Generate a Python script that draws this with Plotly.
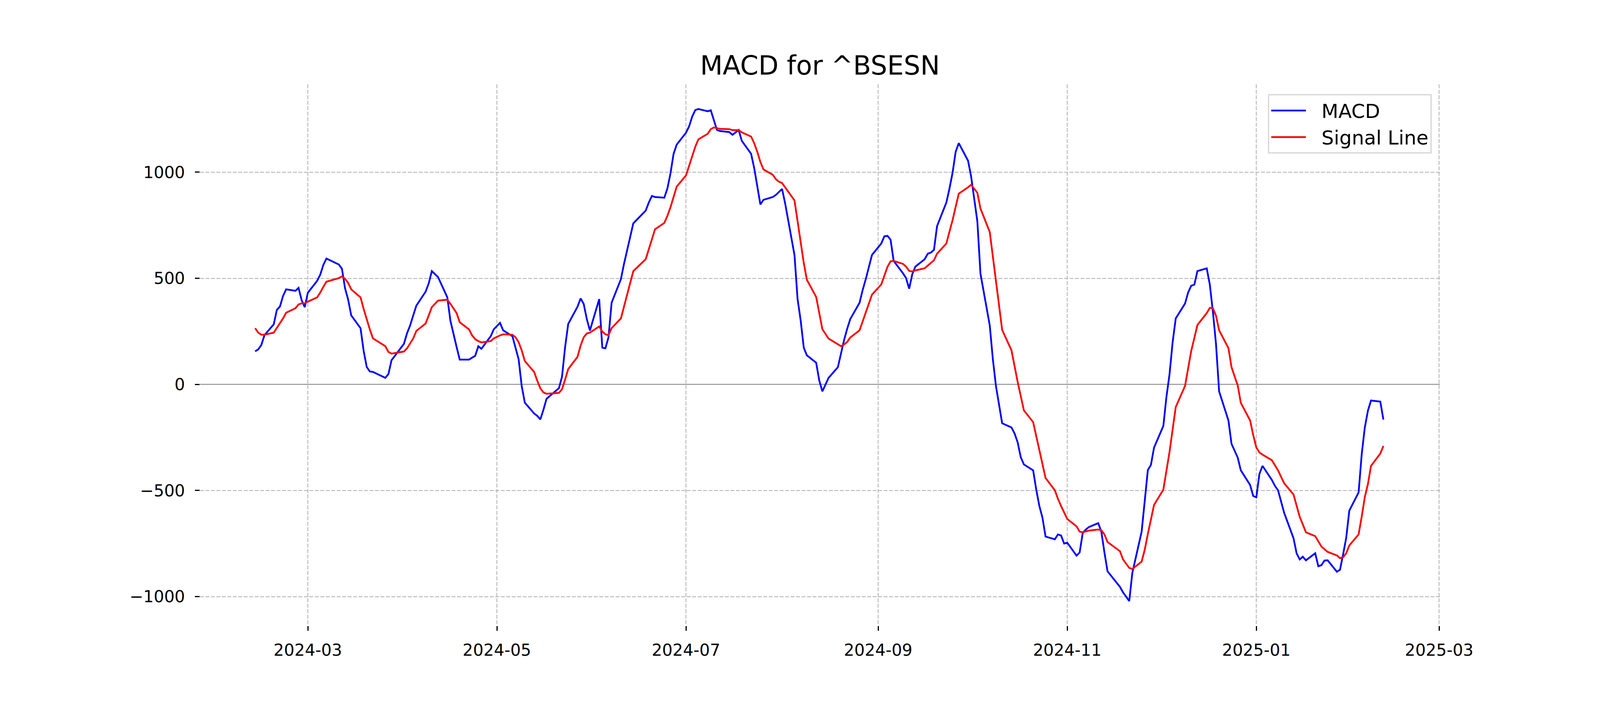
import plotly.graph_objects as go

# ---- data ----
months = [
    ("2024-02", [13, 14, 15, 16, 19, 20, 21, 22, 23, 26, 27, 28, 29]),
    ("2024-03", [1, 4, 5, 6, 7, 11, 12, 13, 14, 15, 18, 19, 20, 21, 22, 26, 27, 28]),
    ("2024-04", [1, 2, 3, 4, 5, 8, 9, 10, 12, 15, 16, 18, 19, 22, 23, 24, 25, 26, 29, 30]),
    ("2024-05", [2, 3, 6, 7, 8, 9, 10, 13, 14, 15, 16, 17, 21, 22, 23, 24, 27, 28, 29, 30, 31]),
    ("2024-06", [3, 4, 5, 6, 7, 10, 11, 12, 13, 14, 18, 19, 20, 21, 24, 25, 26, 27, 28]),
    ("2024-07", [1, 2, 3, 4, 5, 8, 9, 10, 11, 12, 15, 16, 18, 19, 22, 23, 24, 25, 26, 29, 30, 31]),
    ("2024-08", [1, 2, 5, 6, 7, 8, 9, 12, 13, 14, 16, 19, 20, 21, 22, 23, 26, 27, 28, 29, 30]),
    ("2024-09", [2, 3, 4, 5, 6, 9, 10, 11, 12, 13, 16, 17, 18, 19, 20, 23, 24, 25, 26, 27, 30]),
    ("2024-10", [1, 3, 4, 7, 8, 9, 10, 11, 14, 15, 16, 17, 18, 21, 22, 23, 24, 25, 28, 29, 30, 31]),
    ("2024-11", [1, 4, 5, 6, 7, 8, 11, 12, 13, 14, 18, 19, 21, 22, 25, 26, 27, 28, 29]),
    ("2024-12", [2, 3, 4, 5, 6, 9, 10, 11, 12, 13, 16, 17, 18, 19, 20, 23, 24, 26, 27, 30, 31]),
    ("2025-01", [1, 2, 3, 6, 7, 8, 9, 10, 13, 14, 15, 16, 17, 20, 21, 22, 23, 24, 27, 28, 29, 30, 31]),
    ("2025-02", [3, 4, 5, 6, 7, 10, 11]),
]
dates = [f"{ym}-{d:02d}" for ym, days in months for d in days]

macd = [
    156, 165, 186, 232, 283, 351, 367, 417, 448, 441, 455, 397, 364,
    432, 488, 517, 563, 593, 565, 545, 453, 400, 325, 265, 158, 82, 61, 59, 31, 49, 114,
    191, 241, 278, 325, 371, 437, 476, 534, 506, 410, 300, 176, 117, 117, 125, 135, 180, 168, 227, 260,
    290, 255, 227, 173, 119, -8, -86, -137, -148, -165, -120, -68, -18, 36, 176, 285, 366, 405, 379, 308, 254,
    402, 173, 170, 222, 385, 496, 568, 634, 695, 759, 819, 857, 888, 883, 880, 923, 995, 1087, 1130,
    1186, 1216, 1262, 1293, 1298, 1287, 1292, 1245, 1199, 1194, 1189, 1176, 1199, 1148, 1087, 1020, 934, 848, 870, 883, 893, 908,
    921, 852, 610, 402, 301, 173, 137, 102, 18, -33, 31, 81, 148, 209, 262, 308, 385, 445, 496, 553, 610,
    664, 698, 700, 682, 582, 524, 501, 451, 519, 555, 590, 616, 621, 634, 746, 857, 923, 997, 1096, 1137, 1054,
    979, 768, 522, 278, 119, -8, -95, -183, -203, -231, -273, -343, -377, -405, -496, -573, -628, -717, -730, -707, -712, -750,
    -746, -807, -792, -700, -684, -672, -654, -694, -792, -881, -954, -980, -1021, -888, -694, -540, -404, -379, -298,
    -196, -59, 48, 199, 311, 381, 433, 465, 470, 534, 547, 470, 341, 189, -33, -170, -280, -345, -405, -474, -526,
    -532, -422, -384, -450, -478, -499, -552, -606, -725, -796, -825, -812, -829, -796, -857, -852, -830, -829, -883, -873, -801, -723, -595,
    -509, -329, -203, -124, -76, -81, -166,
]

signal = [
    265, 244, 234, 234, 244, 267, 290, 311, 338, 359, 377, 382, 382,
    390, 410, 433, 460, 484, 501, 509, 498, 478, 448, 410, 356, 305, 259, 217, 180, 153, 145,
    155, 170, 193, 217, 252, 287, 325, 364, 395, 399, 380, 336, 293, 259, 231, 213, 204, 198, 204, 217,
    231, 236, 234, 222, 199, 160, 110, 59, 18, -18, -38, -44, -40, -23, 23, 72, 130, 183, 222, 240, 244,
    273, 249, 236, 232, 265, 311, 366, 423, 479, 534, 590, 638, 690, 731, 761, 794, 835, 885, 932,
    985, 1030, 1074, 1120, 1155, 1181, 1203, 1211, 1208, 1204, 1203, 1198, 1198, 1188, 1168, 1137, 1096, 1048, 1013, 988, 967, 955,
    949, 929, 867, 769, 670, 572, 493, 412, 336, 260, 216, 189, 180, 188, 200, 221, 255, 297, 338, 380, 423,
    471, 514, 554, 580, 582, 568, 555, 535, 532, 537, 547, 560, 572, 585, 616, 664, 720, 774, 837, 899, 929,
    941, 903, 829, 718, 600, 480, 370, 257, 161, 85, 12, -55, -122, -178, -245, -310, -375, -441, -499, -539, -573, -606,
    -634, -669, -694, -697, -693, -689, -684, -687, -707, -743, -786, -825, -865, -870, -835, -779, -705, -636, -568,
    -496, -407, -318, -212, -107, -7, 77, 158, 219, 280, 336, 361, 359, 323, 255, 171, 81, -5, -87, -170, -239,
    -297, -321, -331, -357, -381, -405, -436, -466, -519, -572, -624, -660, -697, -715, -740, -764, -777, -789, -806, -819, -815, -796, -759,
    -707, -623, -531, -470, -384, -326, -290,
]

assert len(dates) == len(macd) == len(signal), (len(dates), len(macd), len(signal))

title_text = "MACD for ^BSESN"
series_names = ["MACD", "Signal Line"]
x_range = ["2024-01-26 05:00", "2025-03-01 05:00"]
y_range = [-1137, 1414]
y_ticks = [-1000, -500, 0, 500, 1000]

FONT = "DejaVu Sans"
W, H = 4800, 1800
ML, MR, MT, MB = 600, 480, 216, 198
F_TITLE, F_TICK, F_LEG = 67, 42, 50
LEG_ITEM_W = 104
GAP = "\u2002\u2009"  # space between legend line sample and its label

fig = go.Figure()
fig.add_trace(go.Scatter(x=dates, y=macd, mode="lines", name=GAP + series_names[0],
                         line=dict(color="#0000ff", width=4.5)))
fig.add_trace(go.Scatter(x=dates, y=signal, mode="lines", name=GAP + series_names[1],
                         line=dict(color="#ff0000", width=4.5)))

fig.update_layout(
    width=W, height=H,
    margin=dict(l=ML, r=MR, t=MT, b=MB, pad=0),
    paper_bgcolor="white", plot_bgcolor="white",
    font=dict(family=FONT, color="black", size=F_TICK),
    title=dict(text=title_text, x=0.5125, xanchor="center", y=0.9067, yanchor="middle",
               xref="container", yref="container",
               font=dict(family=FONT, size=F_TITLE, color="black")),
    showlegend=True,
    legend=dict(x=0.9935, xanchor="right", y=0.982, yanchor="top",
                bgcolor="white", bordercolor="#d6d6d6", borderwidth=3,
                font=dict(family=FONT, size=F_LEG, color="black"),
                itemwidth=LEG_ITEM_W, tracegroupgap=0),
)
grid_style = dict(showgrid=True, gridcolor="#b0b0b0", gridwidth=2, griddash="10px,4px",
                  ticks="outside", ticklen=12, tickwidth=2.5, tickcolor="black",
                  tickfont=dict(family=FONT, size=F_TICK, color="black"), showline=False)
fig.update_xaxes(type="date", range=x_range, tick0="2024-03-01", dtick="M2",
                 tickformat="%Y-%m", zeroline=False, ticklabelstandoff=14, **grid_style)
fig.update_yaxes(range=y_range, tickvals=y_ticks,
                 ticktext=[f"\u2212{abs(v)}" if v < 0 else str(v) for v in y_ticks],
                 zeroline=True, zerolinecolor="#808080", zerolinewidth=2,
                 ticklabelstandoff=17, **grid_style)

# Make the figure fill the browser viewport exactly (the CSS viewport may be
# smaller than the requested window): rescale margins/fonts to the viewport.
post = f"""
(function() {{
  var de = document.documentElement, b = document.body;
  de.style.margin = '0'; de.style.padding = '0'; de.style.overflow = 'hidden';
  b.style.margin = '0'; b.style.padding = '0'; b.style.overflow = 'hidden';
  var gd = document.getElementById('{{plot_id}}');
  var vw = window.innerWidth, vh = window.innerHeight;
  if (!gd || !vw || !vh) return;
  if (Math.abs(vw - {W}) < 1 && Math.abs(vh - {H}) < 1) return;
  var sx = vw / {W}, sy = vh / {H}, fs = sy;
  Plotly.relayout(gd, {{
    'width': vw, 'height': vh,
    'margin.l': {ML} * sx, 'margin.r': {MR} * sx,
    'margin.t': {MT} * sy, 'margin.b': {MB} * sy,
    'font.size': {F_TICK} * fs,
    'title.font.size': {F_TITLE} * fs,
    'legend.font.size': {F_LEG} * fs,
    'legend.itemwidth': Math.max(30, {LEG_ITEM_W} * sx),
    'xaxis.tickfont.size': {F_TICK} * fs,
    'yaxis.tickfont.size': {F_TICK} * fs
  }});
}})();
"""

fig.write_html("out.html", post_script=post, config={"displayModeBar": False})
